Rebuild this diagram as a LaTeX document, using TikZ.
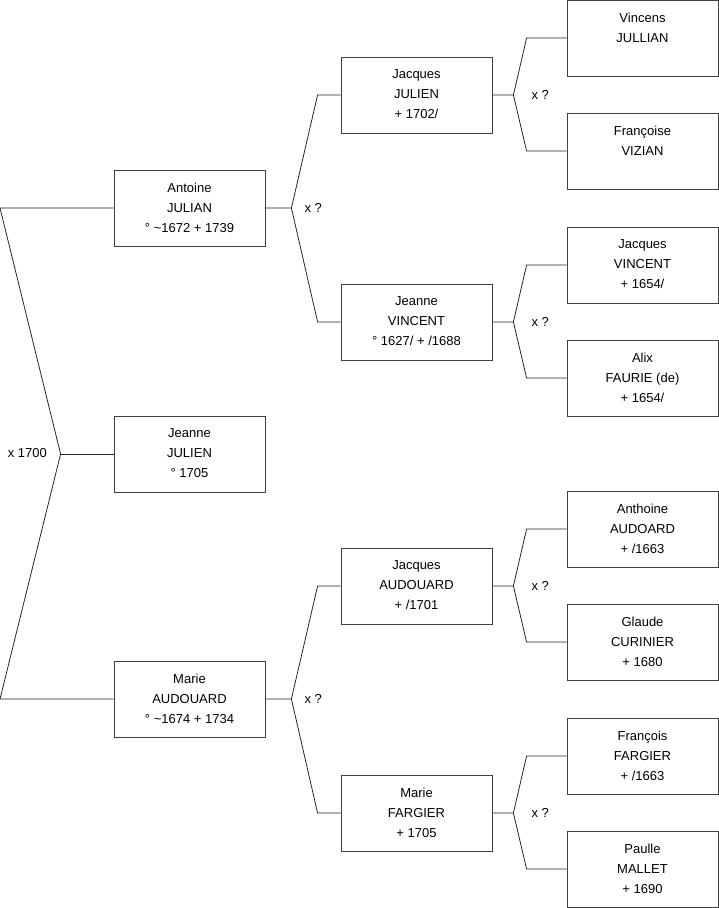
\documentclass[tikz,border=0pt]{standalone}
\usepackage{fontspec}
\setmainfont{Liberation Sans}
\usetikzlibrary{positioning}
\tikzset{
  person/.style={draw=black!75, line width=0.8pt, minimum width=151pt, minimum height=76pt,
    align=center, inner sep=0pt, font=\fontsize{13}{20}\selectfont, text depth=1pt},
  link/.style={draw=black!85, line width=0.8pt},
  union/.style={font=\fontsize{13}{16}\selectfont, anchor=west, inner sep=0pt}
}

\begin{document}
\begin{tikzpicture}[x=1pt, y=-1pt]
  \useasboundingbox (0,0) rectangle (719,908);
  % Generation 1
  \node[person] (antoine) at (189.5,208) {Antoine\\JULIAN\\° \textasciitilde1672 + 1739};
  \node[person] (jeanne)  at (189.5,454) {Jeanne\\JULIEN\\° 1705};
  \node[person] (marie)   at (189.5,699) {Marie\\AUDOUARD\\° \textasciitilde1674 + 1734};
  % Generation 2
  \node[person] (jacques)  at (416.5,95)  {Jacques\\JULIEN\\+ 1702/};
  \node[person] (jeannev)  at (416.5,322) {Jeanne\\VINCENT\\° 1627/ + /1688};
  \node[person] (jacquesa) at (416.5,586) {Jacques\\AUDOUARD\\+ /1701};
  \node[person] (marief)   at (416.5,813) {Marie\\FARGIER\\+ 1705};
  % Generation 3
  \node[person] (vincens)   at (642.5,38)  {Vincens\\JULLIAN\\\mbox{}};
  \node[person] (francoise) at (642.5,151) {Françoise\\VIZIAN\\\mbox{}};
  \node[person] (jacquesv)  at (642.5,265) {Jacques\\VINCENT\\+ 1654/};
  \node[person] (alix)      at (642.5,378) {Alix\\FAURIE (de)\\+ 1654/};
  \node[person] (anthoine)  at (642.5,529) {Anthoine\\AUDOARD\\+ /1663};
  \node[person] (glaude)    at (642.5,642) {Glaude\\CURINIER\\+ 1680};
  \node[person] (francois)  at (642.5,756) {François\\FARGIER\\+ /1663};
  \node[person] (paulle)    at (642.5,869) {Paulle\\MALLET\\+ 1690};
  % Parents of Jeanne
  \coordinate (leftedge) at (0,0);
  \coordinate[left=53pt of jeanne] (root);
  \draw[link] (antoine.west) -- (antoine.west -| leftedge) -- (root)
    -- (marie.west -| leftedge) -- (marie.west);
  \draw[link] (root) -- (jeanne.west);
  \node[union, anchor=east] (rootlbl) at (47,453) {x 1700};
  % Grandparents
  \foreach \p/\a/\b in {antoine/jacques/jeannev, marie/jacquesa/marief}{
    \coordinate[right=26pt of \p] (fork-\p);
    \draw[link] (\p.east) -- (fork-\p) -- ([xshift=-23pt]\a.west) -- (\a.west);
    \draw[link] (fork-\p) -- ([xshift=-23pt]\b.west) -- (\b.west);
    \node[union, right=13pt of fork-\p] (lbl-\p) {x ?};
  }
  % Great-grandparents
  \foreach \p/\a/\b in {jacques/vincens/francoise, jeannev/jacquesv/alix,
      jacquesa/anthoine/glaude, marief/francois/paulle}{
    \coordinate[right=21pt of \p] (fork-\p);
    \draw[link] (\p.east) -- (fork-\p) -- ([xshift=-40pt]\a.west) -- (\a.west);
    \draw[link] (fork-\p) -- ([xshift=-40pt]\b.west) -- (\b.west);
    \node[union, right=18pt of fork-\p] (lbl-\p) {x ?};
  }
\end{tikzpicture}
\end{document}
